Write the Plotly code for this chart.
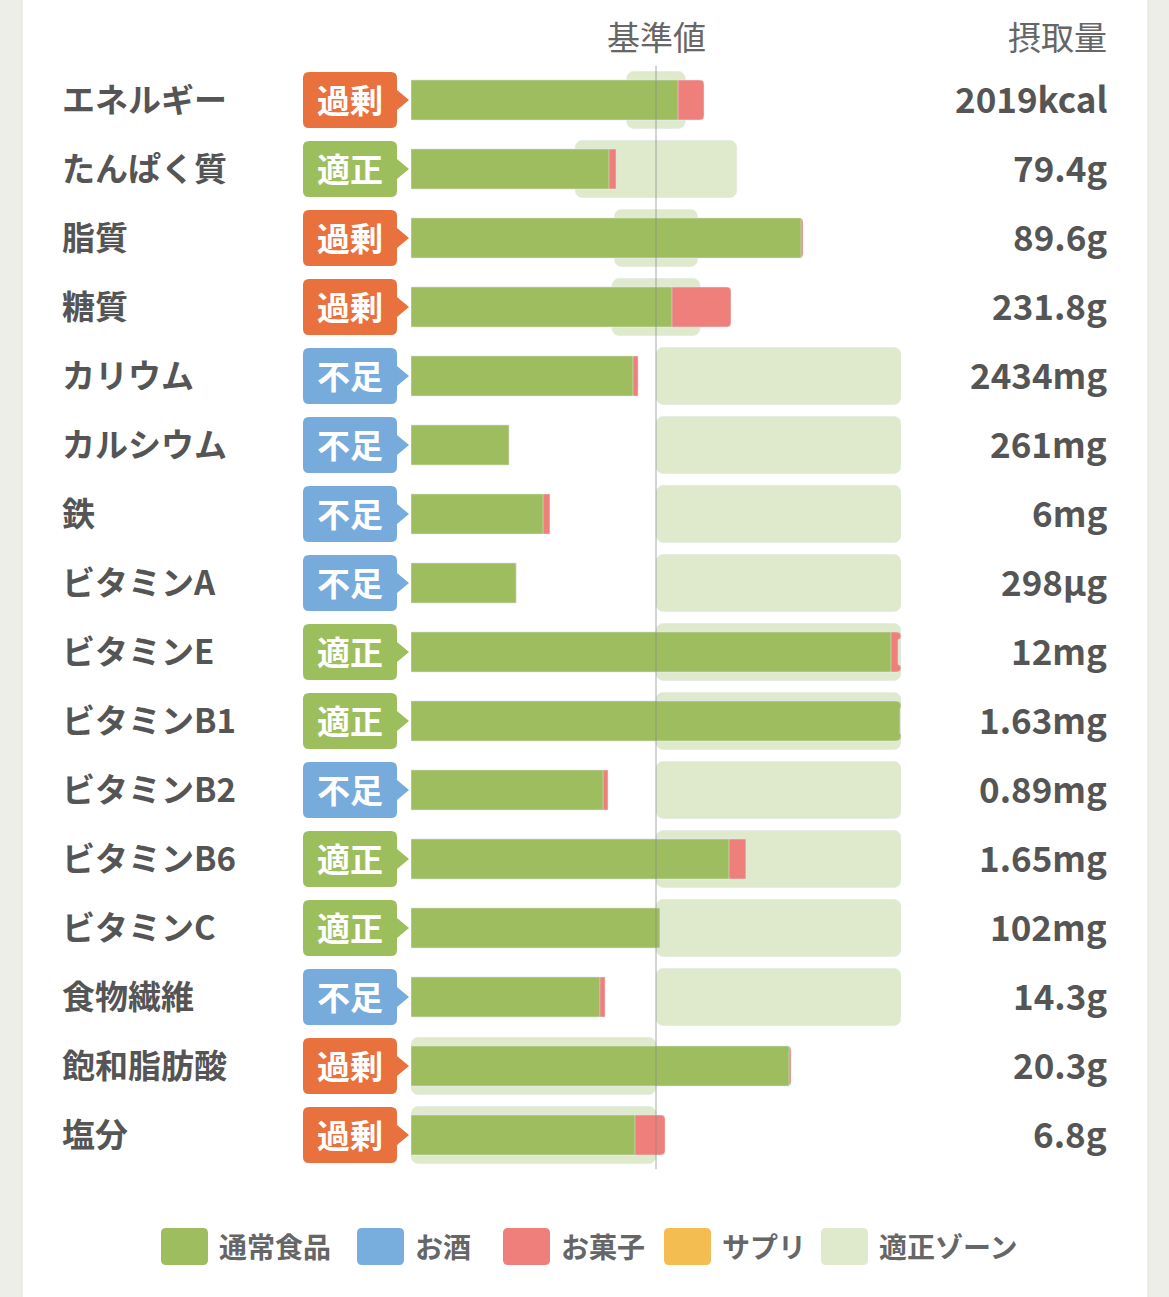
import plotly.graph_objects as go

W, H = 1169, 1297

# rows, top to bottom
nutrients = ["エネルギー", "たんぱく質", "脂質", "糖質", "カリウム", "カルシウム", "鉄",
             "ビタミンA", "ビタミンE", "ビタミンB1", "ビタミンB2", "ビタミンB6",
             "ビタミンC", "食物繊維", "飽和脂肪酸", "塩分"]
status = ["過剰", "適正", "過剰", "過剰", "不足", "不足", "不足", "不足",
          "適正", "適正", "不足", "適正", "適正", "不足", "過剰", "過剰"]
intake = ["2019kcal", "79.4g", "89.6g", "231.8g", "2434mg", "261mg", "6mg", "298µg",
          "12mg", "1.63mg", "0.89mg", "1.65mg", "102mg", "14.3g", "20.3g", "6.8g"]

# percent of the reference value (基準値 = 100)
normal_food = [109.0, 80.8, 159.2, 106.5, 90.6, 40.0, 53.9, 42.9,
               195.9, 199.6, 78.4, 129.8, 101.6, 77.1, 154.3, 91.4]
sweets = [10.6, 2.9, 0.8, 24.1, 2.1, 0.0, 2.8, 0.0,
          2.9, 0.0, 2.0, 6.9, 0.0, 2.1, 0.8, 12.3]
zone_low = [88, 67, 83, 82, 100, 100, 100, 100, 100, 100, 100, 100, 100, 100, 0, 0]
zone_high = [112, 133, 117, 118, 200, 200, 200, 200, 200, 200, 200, 200, 200, 200, 100, 100]

legend_names = ["通常食品", "お酒", "お菓子", "サプリ", "適正ゾーン"]
legend_colors = ["#9dbd5e", "#78aedd", "#ee7f7b", "#f3bd52", "#dfe9cc"]

status_colors = {"過剰": "#e9713d", "適正": "#9dbe5d", "不足": "#76abdc"}

GREEN = "#9dbd5e"
PINK = "#ee7f7b"
ZONE = "#dfe9cc"
TEXT = "#555555"
FONT = "Noto Sans CJK JP"

rows = list(range(len(nutrients)))
ROW_PX = 69  # pixel height of one row


def px(x):
    return x / W


def py(y):
    return 1 - y / H


def rrect(x0, x1, y0, y1, rx, ry, arrow=None):
    # rounded rect path (y0 < y1), optional arrow on the right side: (half height, tip x)
    p = f"M {x0+rx},{y0} L {x1-rx},{y0} Q {x1},{y0} {x1},{y0+ry} "
    if arrow:
        c = (y0 + y1) / 2
        a, tip = arrow
        p += f"L {x1},{c-a} L {tip},{c} L {x1},{c+a} "
    p += f"L {x1},{y1-ry} Q {x1},{y1} {x1-rx},{y1} L {x0+rx},{y1} Q {x0},{y1} {x0},{y1-ry} "
    p += f"L {x0},{y0+ry} Q {x0},{y0} {x0+rx},{y0} Z"
    return p


totals = [g + s for g, s in zip(normal_food, sweets)]
# green bars ending under a pink piece get square ends, the rest rounded
green_sq = [g if s > 0 else None for g, s in zip(normal_food, sweets)]
green_rd = [g if s == 0 else None for g, s in zip(normal_food, sweets)]

fig = go.Figure()
fig.add_trace(go.Bar(
    y=rows, x=[h - l for l, h in zip(zone_low, zone_high)], base=zone_low,
    orientation="h", width=0.83, marker=dict(color=ZONE, cornerradius=7),
    name="適正ゾーン", hoverinfo="skip"))
fig.add_trace(go.Bar(
    y=rows, x=totals, orientation="h", width=0.58,
    marker=dict(color=PINK, cornerradius=4), name="お菓子", hoverinfo="skip"))
fig.add_trace(go.Bar(
    y=rows, x=green_sq, orientation="h", width=0.58,
    marker=dict(color=GREEN), name="通常食品", hoverinfo="skip"))
fig.add_trace(go.Bar(
    y=rows, x=green_rd, orientation="h", width=0.58,
    marker=dict(color=GREEN, cornerradius=5), name="通常食品", hoverinfo="skip"))

shapes = []
annotations = []

# white card
shapes.append(dict(type="rect", xref="paper", yref="paper", x0=px(22), x1=px(1148),
                   y0=-0.01, y1=1.01, fillcolor="white", line=dict(color="#e2e2dc", width=1),
                   layer="below"))

# reference line
shapes.append(dict(type="line", xref="x", yref="y", x0=100, x1=100, y0=-0.5, y1=15.5,
                   line=dict(color="rgba(140,140,140,0.75)", width=1), layer="above"))

# badges, labels, values
ry_unit = 1 / ROW_PX
for i in rows:
    shapes.append(dict(
        type="path", xref="paper", yref="y",
        path=rrect(px(303), px(397), i - 28 * ry_unit, i + 28 * ry_unit,
                   px(6), 6 * ry_unit, arrow=(10 * ry_unit, px(409))),
        fillcolor=status_colors[status[i]], line=dict(width=0)))
    annotations.append(dict(
        x=px(350), y=i, xref="paper", yref="y", text=status[i], showarrow=False,
        xanchor="center", yanchor="middle", yshift=1,
        font=dict(family=FONT, size=33, color="white", weight="bold")))
    annotations.append(dict(
        x=px(60), y=i, xref="paper", yref="y", text=nutrients[i], showarrow=False,
        xanchor="left", yanchor="middle", yshift=2,
        font=dict(family=FONT, size=33, color=TEXT, weight="bold")))
    annotations.append(dict(
        x=px(1109), y=i, xref="paper", yref="y", text=intake[i], showarrow=False,
        xanchor="right", yanchor="middle", yshift=3,
        font=dict(family=FONT, size=35, color=TEXT, weight="bold")))

# headers
annotations.append(dict(x=px(656), y=py(38), xref="paper", yref="paper", text="基準値",
                        xanchor="center", yanchor="middle", showarrow=False, yshift=2,
                        font=dict(family=FONT, size=33, color="#666666")))
annotations.append(dict(x=px(1109), y=py(38), xref="paper", yref="paper", text="摂取量",
                        xanchor="right", yanchor="middle", showarrow=False, yshift=2,
                        font=dict(family=FONT, size=33, color="#666666")))

# legend
legend_x = [161, 357, 503, 664, 821]
for name, col, lx in zip(legend_names, legend_colors, legend_x):
    shapes.append(dict(type="path", xref="paper", yref="paper",
                       path=rrect(px(lx), px(lx + 47), py(1265), py(1228), px(5), 5 / H),
                       fillcolor=col, line=dict(width=0)))
    annotations.append(dict(x=px(lx + 56), y=py(1247), xref="paper", yref="paper",
                            text=name, xanchor="left", yanchor="middle", showarrow=False,
                            yshift=1,
                            font=dict(family=FONT, size=28, color="#666666", weight="bold")))

fig.update_layout(
    width=W, height=H,
    barmode="overlay",
    showlegend=False,
    paper_bgcolor="#eeeee9",
    plot_bgcolor="rgba(0,0,0,0)",
    margin=dict(l=0, r=0, t=0, b=0, pad=0),
    xaxis=dict(domain=[px(411), px(901)], range=[0, 200], showgrid=False,
               zeroline=False, showticklabels=False, fixedrange=True),
    yaxis=dict(domain=[py(1169.5), py(65.5)], range=[15.5, -0.5], showgrid=False,
               zeroline=False, showticklabels=False, fixedrange=True),
    shapes=shapes,
    annotations=annotations,
)

fig.write_html("out.html", config={"displayModeBar": False},
               post_script="document.body.style.margin='0';document.body.style.overflow='hidden';")
